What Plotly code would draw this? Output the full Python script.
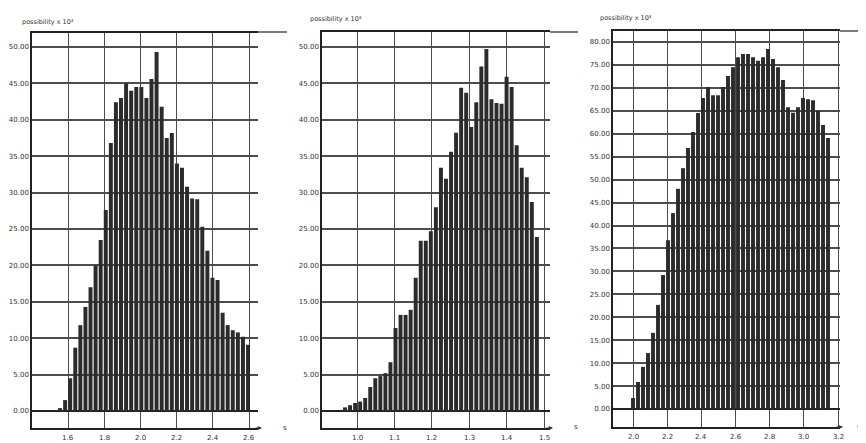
import plotly.graph_objects as go

# the page body adds an 8px margin, so the figure is laid out 8px in from the corner
OFF = 8
W, H = 866 - OFF, 443 - OFF

# ---------------- data ----------------
c1_values = [0.4, 1.5, 4.5, 8.7, 11.8, 14.3, 17.0, 20.0, 23.5, 27.6, 36.8, 42.4, 43.0, 45.0,
             44.0, 44.5, 44.5, 43.0, 45.6, 49.3, 41.8, 37.5, 38.2, 34.0, 33.4, 30.8, 29.2,
             29.1, 25.3, 22.0, 18.3, 18.0, 13.5, 11.8, 11.1, 10.8, 10.2, 9.1]
c1_first_bin = 1.556
c1_bin_width = 0.02807
c1_xticks = [1.6, 1.8, 2.0, 2.2, 2.4, 2.6]
c1_xlabels = ["1.6", "1.8", "2.0", "2.2", "2.4", "2.6"]

c2_values = [0.5, 0.8, 1.1, 1.3, 1.8, 3.3, 4.5, 4.8, 5.2, 6.7, 11.4, 13.2, 13.2, 13.9, 18.3,
             23.4, 23.4, 24.7, 28.0, 33.4, 31.9, 35.6, 38.2, 44.4, 43.7, 39.0, 42.4, 47.3,
             49.7, 42.8, 42.3, 42.2, 45.9, 44.5, 36.5, 33.4, 32.1, 28.7, 23.9]
c2_first_bin = 0.9679
c2_bin_width = 0.0135
c2_xticks = [1.0, 1.1, 1.2, 1.3, 1.4, 1.5]
c2_xlabels = ["1.0", "1.1", "1.2", "1.3", "1.4", "1.5"]

c3_values = [2.4, 5.9, 9.2, 12.2, 16.6, 22.7, 29.2, 36.8, 42.7, 48.0, 52.5, 56.9, 60.4, 64.5,
             67.8, 70.2, 68.4, 68.4, 70.2, 72.6, 74.5, 76.7, 77.4, 77.4, 76.7, 75.9, 76.7,
             78.5, 76.3, 74.5, 71.7, 65.8, 64.6, 65.8, 67.8, 67.5, 67.3, 65.0, 61.9, 59.1]
c3_first_bin = 2.0
c3_bin_width = 0.02927
c3_xticks = [2.0, 2.2, 2.4, 2.6, 2.8, 3.0, 3.2]
c3_xlabels = ["2.0", "2.2", "2.4", "2.6", "2.8", "3.0", "3.2"]

y12_ticks = [0, 5, 10, 15, 20, 25, 30, 35, 40, 45, 50]
y12_labels = ["0.00", "5.00", "10.00", "15.00", "20.00", "25.00", "30.00", "35.00",
              "40.00", "45.00", "50.00"]
y3_ticks = [0, 5, 10, 15, 20, 25, 30, 35, 40, 45, 50, 55, 60, 65, 70, 75, 80]
y3_labels = ["0.00", "5.00", "10.00", "15.00", "20.00", "25.00", "30.00", "35.00", "40.00",
             "45.00", "50.00", "55.00", "60.00", "65.00", "70.00", "75.00", "80.00"]

y_title = "possibility x 10³"
x_title = "s"

# ---------------- helpers (screen pixels -> paper fraction) ----------------
def px(x):
    return (x - OFF) / W

def py(y):
    return 1 - (y - OFF) / H

BAR = "#2b2b2b"
GRID = "#4d4d4d"
FONT = dict(family="DejaVu Sans", size=7, color="#333333")

fig = go.Figure()

charts = [
    dict(vals=c1_values, x0=c1_first_bin, w=c1_bin_width, xt=c1_xticks, xl=c1_xlabels,
         yt=y12_ticks, yl=y12_labels, xdom=(32, 258), ydom=(33, 428),
         xr=(1.4011, 2.6497), yr=(-2.33, 51.92), lab_y=438),
    dict(vals=c2_values, x0=c2_first_bin, w=c2_bin_width, xt=c2_xticks, xl=c2_xlabels,
         yt=y12_ticks, yl=y12_labels, xdom=(322, 550), ydom=(32, 428),
         xr=(0.9064, 1.516), yr=(-2.33, 52.05), lab_y=438),
    dict(vals=c3_values, x0=c3_first_bin, w=c3_bin_width, xt=c3_xticks, xl=c3_xlabels,
         yt=y3_ticks, yl=y3_labels, xdom=(613, 840), ydom=(31, 427),
         xr=(1.8829, 3.2117), yr=(-3.92, 82.40), lab_y=437),
]

annotations = []
shapes = []
layout_axes = {}
for i, c in enumerate(charts, start=1):
    xs = [c["x0"] + k * c["w"] for k in range(len(c["vals"]))]
    xa = "x" if i == 1 else f"x{i}"
    ya = "y" if i == 1 else f"y{i}"
    fig.add_trace(go.Bar(x=xs, y=c["vals"], xaxis=xa, yaxis=ya,
                         marker=dict(color=BAR, line=dict(width=0)),
                         showlegend=False, hoverinfo="skip"))
    xk = "xaxis" if i == 1 else f"xaxis{i}"
    yk = "yaxis" if i == 1 else f"yaxis{i}"
    layout_axes[xk] = dict(
        domain=[px(c["xdom"][0]), px(c["xdom"][1])], anchor=ya, range=list(c["xr"]),
        tickmode="array", tickvals=c["xt"], ticktext=c["xl"], showticklabels=False,
        showgrid=True, gridcolor=GRID, gridwidth=1.3,
        showline=True, linecolor="#222222", linewidth=1.5, mirror=True,
        ticks="", zeroline=False, automargin=False, fixedrange=True,
    )
    layout_axes[yk] = dict(
        domain=[py(c["ydom"][1]), py(c["ydom"][0])], anchor=xa, range=list(c["yr"]),
        tickmode="array", tickvals=c["yt"], ticktext=c["yl"],
        showgrid=True, gridcolor=GRID, gridwidth=1.5,
        showline=True, linecolor="#222222", linewidth=1.5,
        zeroline=True, zerolinecolor="#222222", zerolinewidth=2,
        ticks="", tickfont=FONT, automargin=False, fixedrange=True,
    )
    # x tick labels placed just under the axis line
    for tv, tl in zip(c["xt"], c["xl"]):
        annotations.append(dict(x=tv, y=py(c["lab_y"]), xref=xa, yref="paper", text=tl,
                                showarrow=False, xanchor="center", yanchor="middle",
                                font=FONT))

# y titles
for (x, y) in [(20, 22), (308, 19), (598, 18)]:
    annotations.append(dict(x=px(x), y=py(y), xref="paper", yref="paper", text=y_title,
                            showarrow=False, xanchor="left", yanchor="middle",
                            font=dict(family="DejaVu Sans", size=6.5, color="#333333")))
# x axis label
for (x, y) in [(285, 428), (576, 427), (859, 427)]:
    annotations.append(dict(x=px(x), y=py(y), xref="paper", yref="paper", text=x_title,
                            showarrow=False, xanchor="center", yanchor="middle",
                            font=dict(family="DejaVu Sans", size=7, color="#333333")))
# arrowheads at the end of the x axes
for (x, y) in [(262, 428), (553, 428), (843, 427)]:
    annotations.append(dict(x=px(x), y=py(y), xref="paper", yref="paper", text="",
                            showarrow=True, ax=-8, ay=0, arrowhead=2, arrowsize=0.7,
                            arrowwidth=1.2, arrowcolor="#333333"))
# top line extensions
for (x0, x1, y) in [(258, 287, 32), (550, 578, 32), (840, 866, 31)]:
    shapes.append(dict(type="line", xref="paper", yref="paper", x0=px(x0), x1=px(x1),
                       y0=py(y), y1=py(y), line=dict(color="#333333", width=1.3)))

fig.update_layout(
    width=W, height=H, margin=dict(l=0, r=0, t=0, b=0),
    paper_bgcolor="white", plot_bgcolor="white",
    bargap=0.22, showlegend=False,
    annotations=annotations, shapes=shapes,
    **layout_axes,
)

fig.write_html("out.html")
